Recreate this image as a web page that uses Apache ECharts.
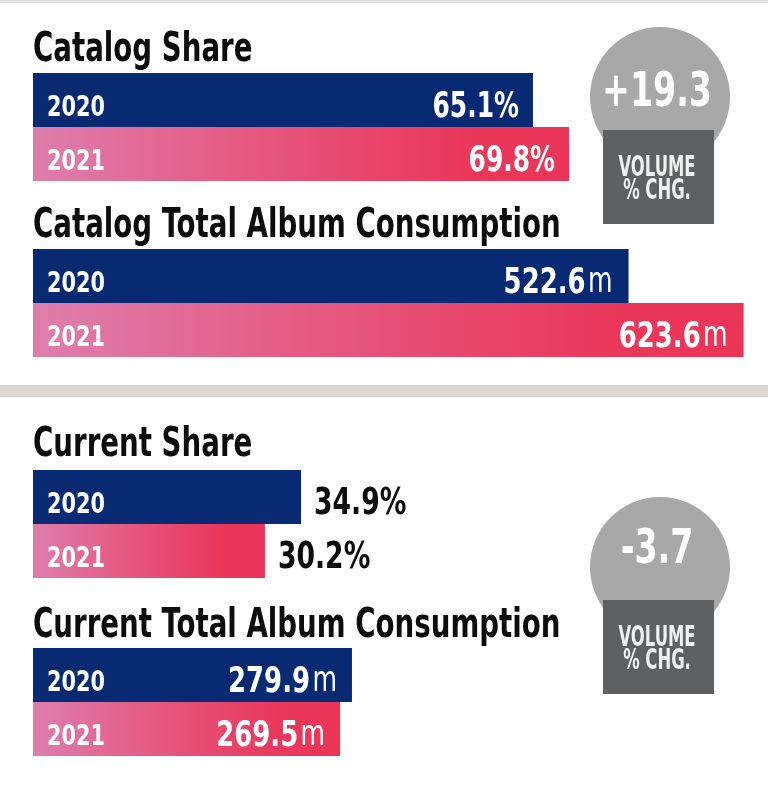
<!DOCTYPE html>
<html>
<head>
<meta charset="utf-8">
<script src="https://cdn.jsdelivr.net/npm/echarts@6/dist/echarts.min.js"></script>
<style>
  html, body { margin: 0; padding: 0; background: #fff; }
  #chart { width: 768px; height: 787px; }
</style>
</head>
<body>
<div id="chart"></div>
<script>
const years = ['2020', '2021'];
const panelTitles = ['Catalog Share', 'Catalog Total Album Consumption', 'Current Share', 'Current Total Album Consumption'];
const catalogShare = [65.1, 69.8];
const catalogTotal = [522.6, 623.6];
const currentShare = [34.9, 30.2];
const currentTotal = [279.9, 269.5];
const volumeChange = ['+19.3', '-3.7'];
const badgeLines = ['VOLUME', '% CHG.'];

// only condensed face we have, squeezed a bit more with scaleX
const FONT = "'Liberation Sans Narrow', 'DejaVu Sans Condensed', sans-serif";
const navy = '#072a72';
const pinkRed = new echarts.graphic.LinearGradient(0, 0, 1, 0, [
  { offset: 0, color: '#de7eac' },
  { offset: 0.5, color: '#e65077' },
  { offset: 0.8, color: '#e9385b' },
  { offset: 1, color: '#ea3558' }
]);

const panels = [
  { data: catalogShare, unit: '%', max: 95.7, top: 73, inside: true, pad: 14 },
  { data: catalogTotal, unit: 'm', max: 645, top: 249, inside: true, pad: 16 },
  { data: currentShare, unit: '%', max: 95.7, top: 470, inside: false, pad: 13 },
  { data: currentTotal, unit: 'm', max: 645, top: 648, inside: true, pad: 15 }
];
const titleMid = [50, 226, 445, 626];
const badges = [
  { cy: 97, box: 130, num: 94 },
  { cy: 567, box: 600, num: 551 }
];

const chart = echarts.init(document.getElementById('chart'));
chart.setOption({
  animation: false,
  grid: panels.map((p) => ({ left: 33, right: 0, top: p.top, height: 108 })),
  xAxis: panels.map((p, i) => ({ type: 'value', gridIndex: i, min: 0, max: p.max, show: false })),
  yAxis: panels.map((p, i) => ({
    type: 'category', gridIndex: i, data: years, inverse: true,
    axisLine: { show: false }, axisTick: { show: false }, axisLabel: { show: false }
  })),
  series: panels.map((p, i) => ({
    type: 'bar',
    xAxisIndex: i,
    yAxisIndex: i,
    barWidth: '100%',
    data: p.data.map((v, j) => ({ value: v, itemStyle: { color: j === 0 ? navy : pinkRed } }))
  }))
});

const txt = (x, y, text, size, color, sx, align, extra) => ({
  type: 'text', x: x, y: y, scaleX: sx, z: 10,
  style: Object.assign({
    text: text, fill: color, font: 'bold ' + size + 'px ' + FONT,
    align: align, verticalAlign: 'middle'
  }, extra || {})
});

const graphics = [
  { type: 'rect', shape: { x: 0, y: 0, width: 768, height: 3 }, style: { fill: '#e2e2e2' } },
  { type: 'rect', shape: { x: 0, y: 385, width: 768, height: 12 }, style: { fill: '#ddd7d4' } }
];

panelTitles.forEach((t, i) => graphics.push(txt(33, titleMid[i], t, 41, '#0d0d0d', 0.75, 'left')));

// labels sit on the bars, placed from the chart's own scales
panels.forEach((p, i) => {
  p.data.forEach((v, j) => {
    const end = chart.convertToPixel({ gridIndex: i }, [v, years[j]]);
    const start = chart.convertToPixel({ gridIndex: i }, [0, years[j]]);
    graphics.push(txt(start[0] + 14, end[1] + 8.4, years[j], 29, '#fff', 0.8, 'left'));
    if (p.unit === '%') {
      graphics.push(p.inside
        ? txt(end[0] - p.pad, end[1] + 7.5, v + '%', 36, '#fff', 0.77, 'right')
        : txt(end[0] + p.pad, end[1] + 7, v + '%', 37, '#0d0d0d', 0.8, 'left'));
    } else {
      graphics.push(txt(end[0] - p.pad, end[1] + 7.3, '{v|' + v + '}{u|m}', 36, '#fff', 0.8, 'right', {
        rich: {
          v: { font: 'bold 36px ' + FONT, fill: '#fff' },
          u: { font: '35px ' + FONT, fill: '#fff', padding: [0, 0, 0, 3] }
        }
      }));
    }
  });
});

badges.forEach((b, i) => {
  graphics.push(
    { type: 'circle', shape: { cx: 660, cy: b.cy, r: 70 }, style: { fill: '#a8a8a8' } },
    { type: 'rect', shape: { x: 603, y: b.box, width: 111, height: 94 }, style: { fill: '#5f6062' } },
    txt(657, b.num, volumeChange[i], 48, '#fff', 0.77, 'center'),
    txt(657, b.box + 38.4, badgeLines[0], 29, '#f0f0f0', 0.63, 'center'),
    txt(657, b.box + 61.4, badgeLines[1], 29, '#f0f0f0', 0.63, 'center')
  );
});

chart.setOption({ graphic: graphics });
</script>
</body>
</html>
